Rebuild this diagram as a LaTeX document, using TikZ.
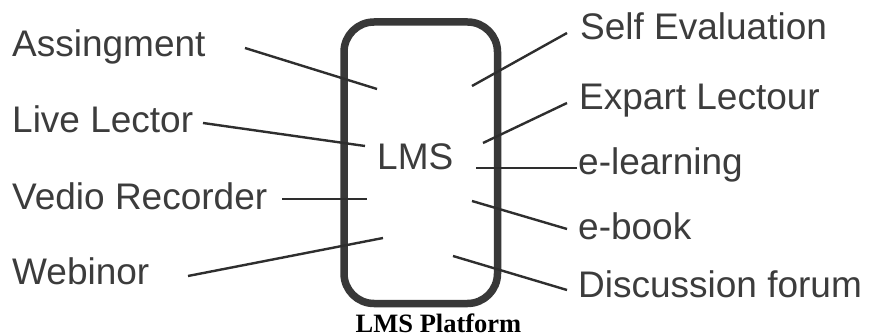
\documentclass[tikz,border=0pt]{standalone}
\usepackage{fontspec}
\setmainfont{Liberation Sans}
\newfontfamily\capfont{Liberation Serif}
\definecolor{txt}{HTML}{3C3C3C}
\definecolor{ln}{HTML}{2E2E2E}
\begin{document}
\begin{tikzpicture}[x=1pt,y=-1pt,
  lbl/.style={anchor=base west,inner sep=0pt,text=txt,font=\fontsize{37}{40}\selectfont},
  conn/.style={draw=ln,line width=2.4pt},
  lmsbox/.style={draw=ln!95,line width=7.5pt,rounded corners=30pt}]
\useasboundingbox (0,0) rectangle (869,336);
\fill[white] (0,0) rectangle (869,336);
% box
\draw[lmsbox] (344,22) rectangle (497.5,303.5);
\node[lbl] (lms) at (377,170) {LMS};
% left labels
\node[lbl] (assign) at (12,57) {Assingment};
\node[lbl] (live) at (12,133) {Live Lector};
\node[lbl] (vedio) at (12,210) {Vedio Recorder};
\node[lbl] (web) at (12,285) {Webinor};
% right labels
\node[lbl] (self) at (580,39.5) {Self Evaluation};
\node[lbl] (expart) at (579,110) {Expart Lectour};
\node[lbl] (elearn) at (578,175) {e-learning};
\node[lbl] (ebook) at (578,240) {e-book};
\node[lbl] (disc) at (578,298) {Discussion forum};
% caption
\node[anchor=base,inner sep=0pt,font=\capfont\bfseries\fontsize{26.5}{28}\selectfont] (cap) at (438.5,332) {LMS Platform};
% connector ends
\coordinate (a1) at (245,48);  \coordinate (a2) at (377,89);
\coordinate (l1) at (203,123); \coordinate (l2) at (365,146);
\coordinate (v1) at (282,199); \coordinate (v2) at (367,199);
\coordinate (w1) at (188,276); \coordinate (w2) at (383,238);
\coordinate (s1) at (567,33);  \coordinate (s2) at (472,86);
\coordinate (x1) at (567,103); \coordinate (x2) at (483,143);
\coordinate (e1) at (577,168); \coordinate (e2) at (476,168);
\coordinate (b1) at (567,229); \coordinate (b2) at (472,201);
\coordinate (d1) at (567,290); \coordinate (d2) at (453,256);
\draw[conn] (a1) -- (a2);
\draw[conn] (l1) -- (l2);
\draw[conn] (v1) -- (v2);
\draw[conn] (w1) -- (w2);
\draw[conn] (s1) -- (s2);
\draw[conn] (x1) -- (x2);
\draw[conn] (e1) -- (e2);
\draw[conn] (b1) -- (b2);
\draw[conn] (d1) -- (d2);
\end{tikzpicture}
\end{document}
